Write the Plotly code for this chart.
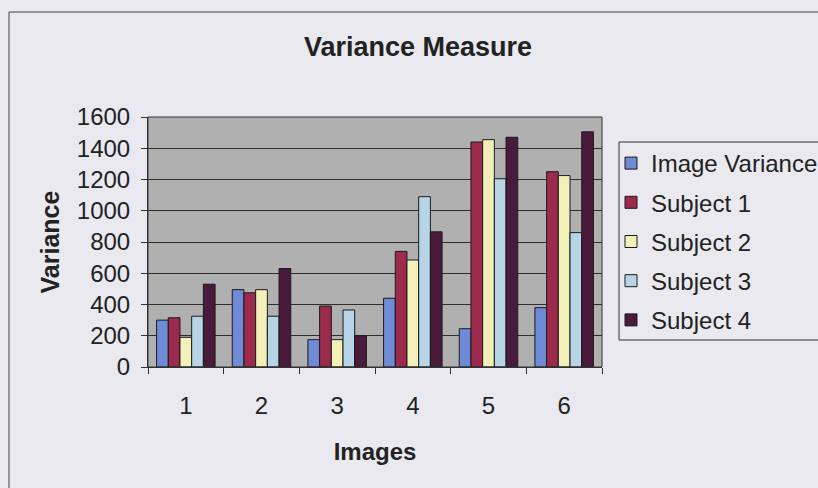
import plotly.graph_objects as go

categories = ["1", "2", "3", "4", "5", "6"]
series_names = ["Image Variance", "Subject 1", "Subject 2", "Subject 3", "Subject 4"]
image_variance = [300, 495, 175, 440, 245, 380]
subject_1 = [315, 475, 390, 740, 1440, 1250]
subject_2 = [190, 495, 175, 685, 1455, 1225]
subject_3 = [325, 325, 365, 1090, 1205, 860]
subject_4 = [530, 630, 200, 865, 1470, 1505]
y_ticks = [0, 200, 400, 600, 800, 1000, 1200, 1400, 1600]

series_values = [image_variance, subject_1, subject_2, subject_3, subject_4]
colors = ["#6F8BD6", "#9C2A4C", "#F2F0B8", "#B7D5E6", "#4A1A3A"]

W, H = 818, 488
L, R, T, B = 148, 602, 117, 367


def px_x(p):
    return (p - L) / (R - L)


def px_y(p):
    return (B - p) / (B - T)


fig = go.Figure()
for i, (name, vals) in enumerate(zip(series_names, series_values)):
    fig.add_trace(go.Bar(
        x=categories, y=vals, name=name,
        legendgroup=name,
        marker=dict(color=colors[i], line=dict(color="#1a1a1a", width=1)),
    ))

font = "Liberation Sans, Arial, sans-serif"
fig.update_layout(
    width=W, height=H,
    margin=dict(l=L, r=W - R, t=T, b=H - B, autoexpand=False),
    paper_bgcolor="#E9E9EF",
    plot_bgcolor="#B0B0B0",
    barmode="group",
    bargap=0.227,
    bargroupgap=0,
    font=dict(family=font, size=24, color="#222222"),
    title=dict(text="<b>Variance Measure</b>", x=418 / W, xanchor="center",
               y=1 - 47 / H, yanchor="middle",
               font=dict(family=font, size=27, color="#222222")),
    showlegend=True,
    legend=dict(
        x=px_x(611), xanchor="left",
        y=px_y(141), yanchor="top",
        bgcolor="rgba(0,0,0,0)",
        borderwidth=0,
        font=dict(family=font, size=24, color="#222222"),
        traceorder="grouped", tracegroupgap=5,
        itemclick=False,
    ),
    xaxis=dict(
        type="category",
        tickson="boundaries",
        ticks="outside", ticklen=6, tickcolor="#333333",
        showline=True, linecolor="#333333", linewidth=1, mirror=False,
        showgrid=False,
        ticklabelstandoff=17,
        title=dict(text="<b>Images</b>", font=dict(family=font, size=24, color="#222222"),
                   standoff=25),
    ),
    yaxis=dict(
        range=[0, 1600],
        tickvals=y_ticks,
        ticks="outside", ticklen=6, tickcolor="#333333",
        showline=True, linecolor="#333333", linewidth=1,
        showgrid=True, gridcolor="#2e2e2e", gridwidth=1,
        zeroline=False,
        ticklabelstandoff=6,
        title=dict(text="<b>Variance</b>", font=dict(family=font, size=25, color="#222222"),
                   standoff=10),
    ),
    shapes=[
        dict(type="rect", xref="paper", yref="paper",
             x0=0, x1=1, y0=0, y1=1, line=dict(color="#333333", width=1),
             fillcolor="rgba(0,0,0,0)", layer="above"),
        # legend frame
        dict(type="rect", xref="paper", yref="paper",
             x0=px_x(619), x1=px_x(W + 20), y0=px_y(340), y1=px_y(142),
             line=dict(color="#333333", width=1), fillcolor="rgba(0,0,0,0)"),
        # outer chart border
        dict(type="line", xref="paper", yref="paper",
             x0=px_x(9), x1=px_x(W + 10), y0=px_y(12), y1=px_y(12),
             line=dict(color="#444444", width=1)),
        dict(type="line", xref="paper", yref="paper",
             x0=px_x(9), x1=px_x(9), y0=px_y(12), y1=px_y(H + 10),
             line=dict(color="#444444", width=1)),
    ],
)

fig.write_html("out.html")
